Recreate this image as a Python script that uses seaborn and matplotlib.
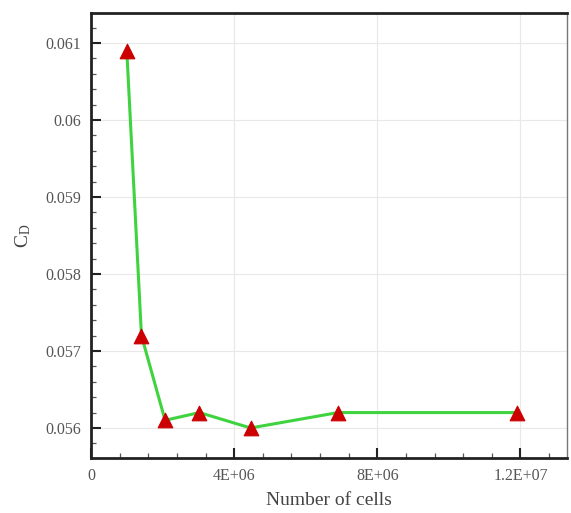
import matplotlib
matplotlib.use("Agg")
import matplotlib.pyplot as plt
import seaborn as sns
import pandas as pd
from matplotlib.ticker import MultipleLocator

cells = [1.0e6, 1.41e6, 2.07e6, 3.03e6, 4.46e6, 6.9e6, 11.9e6]
cd = [0.0609, 0.0572, 0.0561, 0.0562, 0.0560, 0.0562, 0.0562]
xtick_vals = [0, 4e6, 8e6, 1.2e7]
xtick_labels = ["0", "4E+06", "8E+06", "1.2E+07"]
ytick_vals = [0.056, 0.057, 0.058, 0.059, 0.060, 0.061]
ytick_labels = ["0.056", "0.057", "0.058", "0.059", "0.06", "0.061"]

sns.set_theme(style="white")
plt.rcParams['font.family'] = ['Liberation Serif', 'DejaVu Serif']
plt.rcParams['mathtext.fontset'] = 'stix'

df = pd.DataFrame({"cells": cells, "cd": cd})

fig = plt.figure(figsize=(5.71, 5.13), dpi=100)
ax = fig.add_axes([91/571, 1-458/513, (567-91)/571, (458-13)/513])

sns.lineplot(data=df, x="cells", y="cd", ax=ax, color="#3fd33f", linewidth=2.2,
             zorder=2)
sns.scatterplot(data=df, x="cells", y="cd", ax=ax, marker="^", s=110,
                color="#cc0000", edgecolor="#cc0000", zorder=3)

ax.set_xlim(0, 1.33e7)
ax.set_ylim(0.05561, 0.06139)
ax.set_xticks(xtick_vals)
ax.set_xticklabels(xtick_labels)
ax.set_yticks(ytick_vals)
ax.set_yticklabels(ytick_labels)
ax.xaxis.set_minor_locator(MultipleLocator(8e5))
ax.yaxis.set_minor_locator(MultipleLocator(0.0002))

ax.grid(True, which="major", color="#e8e8e8", linewidth=0.8)
ax.tick_params(axis="both", which="major", direction="in", length=7, width=1.5,
               labelsize=11.5, colors="#222222", labelcolor="#555555",
               bottom=True, left=True, top=False, right=False, pad=7)
ax.tick_params(axis="both", which="minor", direction="in", length=3.5, width=0.9,
               colors="#555555", bottom=True, left=True, top=False, right=False)

for side in ["left", "bottom", "top"]:
    ax.spines[side].set_color("#222222")
    ax.spines[side].set_linewidth(2.0)
ax.spines["right"].set_color("#777777")
ax.spines["right"].set_linewidth(1.0)

ax.set_xlabel("Number of cells", fontsize=14, color="#444444", labelpad=6)
ax.set_ylabel(r"C$_\mathregular{D}$", fontsize=14, color="#444444", labelpad=9)

fig.savefig("out.png", dpi=100)
